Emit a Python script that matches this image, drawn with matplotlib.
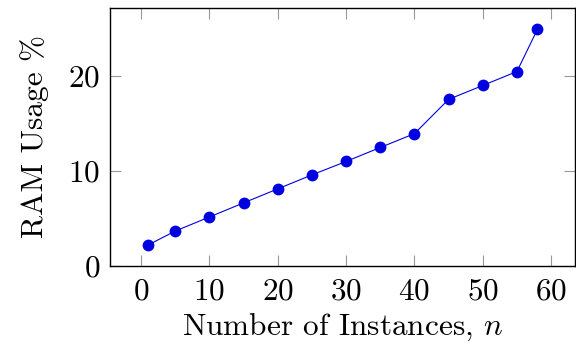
import matplotlib
matplotlib.use("Agg")
import matplotlib.pyplot as plt

plt.rcParams["font.family"] = "cmr10"
plt.rcParams["mathtext.fontset"] = "cm"
plt.rcParams["axes.formatter.use_mathtext"] = True

instances = [1, 5, 10, 15, 20, 25, 30, 35, 40, 45, 50, 55, 58]
ram_usage = [2.2, 3.67, 5.15, 6.63, 8.1, 9.57, 10.98, 12.45, 13.9, 17.5, 18.96, 20.43, 24.85]

x_ticks = [0, 10, 20, 30, 40, 50, 60]
y_ticks = [0, 10, 20]

fig = plt.figure(figsize=(5.76, 3.49), dpi=100)
ax = fig.add_axes([110 / 576, 1 - 266 / 349, 465 / 576, 258 / 349])

ax.plot(instances, ram_usage, color="#0000e0", linewidth=0.8,
        marker="o", markersize=8.5, markeredgewidth=0, zorder=3)

ax.set_xlim(-4.55, 63.5)
ax.set_ylim(0, 27.1)
ax.set_xticks(x_ticks)
ax.set_yticks(y_ticks)

ax.tick_params(direction="in", length=8, width=0.8, color="#999999",
               top=True, right=True, labelsize=22.5)
ax.tick_params(axis="x", pad=8)
ax.tick_params(axis="y", pad=7)
for s in ax.spines.values():
    s.set_linewidth(1.0)
    s.set_color("black")

ax.set_xlabel("Number of Instances, $n$", fontsize=22.5, labelpad=5)
ax.set_ylabel("RAM Usage %", fontsize=22.5, labelpad=14)

fig.savefig("out.png", dpi=100)
